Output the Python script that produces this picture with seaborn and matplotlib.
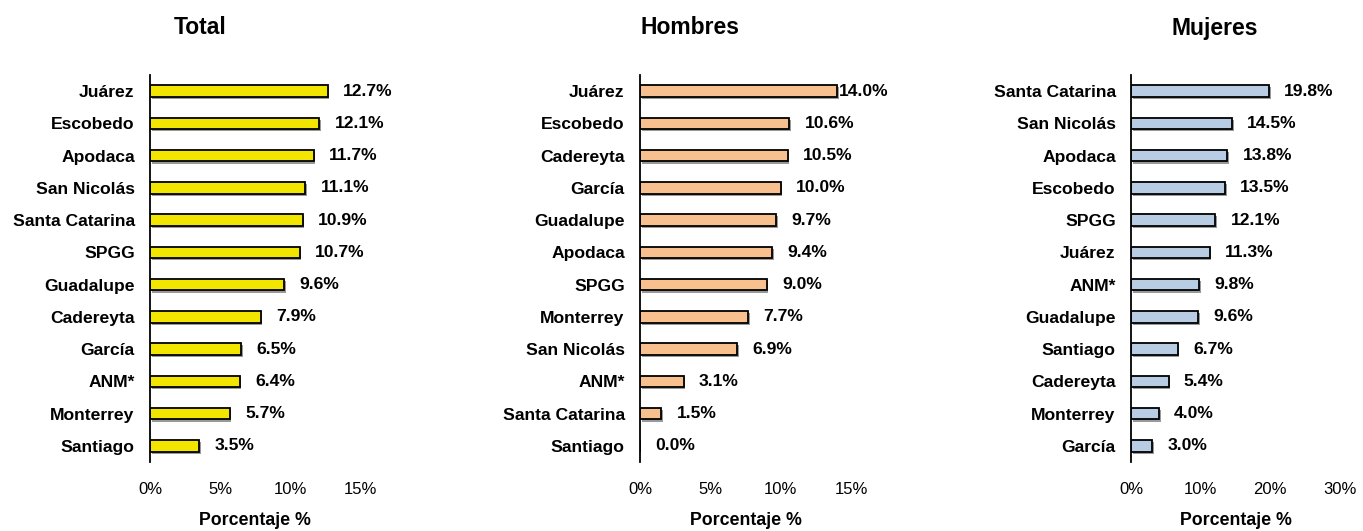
import matplotlib
matplotlib.use("Agg")
import matplotlib.pyplot as plt
import matplotlib.patheffects as pe
import seaborn as sns
import pandas as pd

# Municipios y porcentajes por grupo (ordenados de mayor a menor)
total_municipios = ["Juárez", "Escobedo", "Apodaca", "San Nicolás", "Santa Catarina", "SPGG",
                    "Guadalupe", "Cadereyta", "García", "ANM*", "Monterrey", "Santiago"]
total_valores = [12.7, 12.1, 11.7, 11.1, 10.9, 10.7, 9.6, 7.9, 6.5, 6.4, 5.7, 3.5]

hombres_municipios = ["Juárez", "Escobedo", "Cadereyta", "García", "Guadalupe", "Apodaca",
                      "SPGG", "Monterrey", "San Nicolás", "ANM*", "Santa Catarina", "Santiago"]
hombres_valores = [14.0, 10.6, 10.5, 10.0, 9.7, 9.4, 9.0, 7.7, 6.9, 3.1, 1.5, 0.0]

mujeres_municipios = ["Santa Catarina", "San Nicolás", "Apodaca", "Escobedo", "SPGG", "Juárez",
                      "ANM*", "Guadalupe", "Santiago", "Cadereyta", "Monterrey", "García"]
mujeres_valores = [19.8, 14.5, 13.8, 13.5, 12.1, 11.3, 9.8, 9.6, 6.7, 5.4, 4.0, 3.0]

total_ticks = [0, 5, 10, 15]
hombres_ticks = [0, 5, 10, 15]
mujeres_ticks = [0, 10, 20, 30]

sns.set_theme(style="white")
plt.rcParams["font.family"] = ["Liberation Sans", "DejaVu Sans"]
plt.rcParams["text.color"] = "black"
plt.rcParams["xtick.color"] = "black"
plt.rcParams["ytick.color"] = "black"
plt.rcParams["axes.labelcolor"] = "black"

fs_cat = 12.6
fs_val = 12.6
fs_tick = 12
fs_xlab = 12.8
fs_title = 16.5

W, H = 1363, 531
fig = plt.figure(figsize=(W / 100, H / 100), dpi=100)

panels = [
    ("Total", total_municipios, total_valores, total_ticks, "#F2E600", 150, 360, 200),
    ("Hombres", hombres_municipios, hombres_valores, hombres_ticks, "#F9C08F", 640, 851, 690),
    ("Mujeres", mujeres_municipios, mujeres_valores, mujeres_ticks, "#B8CCE4", 1131, 1340, 1215),
]

top_px, bottom_px = 75, 462

for titulo, municipios, valores, ticks, color, x0, x1, tx in panels:
    ax = fig.add_axes([x0 / W, (H - bottom_px) / H, (x1 - x0) / W, (bottom_px - top_px) / H])
    df = pd.DataFrame({"municipio": municipios, "valor": valores})
    sns.barplot(data=df, x="valor", y="municipio", orient="h", color=color,
                saturation=1, edgecolor="black", linewidth=1.3, width=0.36, ax=ax)
    for bar in ax.patches:
        bar.set_path_effects([pe.SimplePatchShadow(offset=(1.2, -1.5), shadow_rgbFace="#555555", alpha=0.6),
                              pe.Normal()])

    ax.set_xlim(ticks[0], ticks[-1])
    ax.set_ylim(len(municipios) - 0.5, -0.5)
    ax.set_xticks(ticks)
    ax.set_xticklabels([f"{t}%" for t in ticks], fontsize=fs_tick)
    ax.tick_params(axis="x", length=0, pad=14.5)
    ax.tick_params(axis="y", length=0, pad=11)
    for lbl in ax.get_yticklabels():
        lbl.set_fontsize(fs_cat)
        lbl.set_fontweight("bold")

    for s in ["top", "right", "bottom"]:
        ax.spines[s].set_visible(False)
    ax.spines["left"].set_color("black")
    ax.spines["left"].set_linewidth(1.3)

    ax.set_ylabel("")
    ax.set_xlabel("Porcentaje %", fontsize=fs_xlab, fontweight="bold", labelpad=11)

    for i, (m, v) in enumerate(zip(municipios, valores)):
        # la etiqueta de la barra más larga de Hombres va pegada a la barra
        off = 1.5 if (titulo == "Hombres" and i == 0) else 11
        ax.annotate(f"{v:.1f}%", xy=(v, i), xytext=(off, 0), textcoords="offset points",
                    ha="left", va="center", fontsize=fs_val, fontweight="bold", annotation_clip=False)

    fig.text(tx / W, (H - 28) / H, titulo, ha="center", va="center", fontsize=fs_title, fontweight="bold")

fig.savefig("out.png", dpi=100, facecolor="white")
